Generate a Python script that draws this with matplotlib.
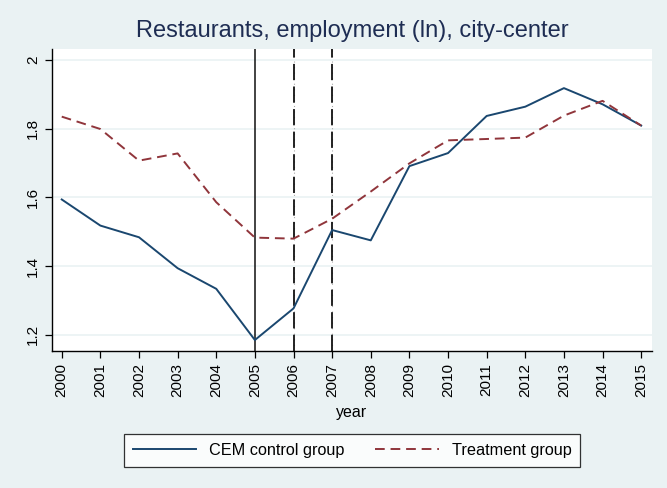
import matplotlib.pyplot as plt
from matplotlib.lines import Line2D

plt.rcParams['font.family'] = ['Liberation Sans', 'DejaVu Sans']

years = list(range(2000, 2016))
control = [1.594, 1.518, 1.484, 1.394, 1.334, 1.185, 1.277, 1.505,
           1.475, 1.691, 1.729, 1.837, 1.864, 1.918, 1.871, 1.809]
treatment = [1.835, 1.799, 1.707, 1.728, 1.586, 1.483, 1.480, 1.538,
             1.617, 1.699, 1.766, 1.770, 1.774, 1.838, 1.881, 1.809]
vlines_solid = [2005]
vlines_dash = [2006, 2007]
yticks = [1.2, 1.4, 1.6, 1.8, 2.0]
ytick_labels = ['1.2', '1.4', '1.6', '1.8', '2']

bg = '#EAF2F3'
fig = plt.figure(figsize=(6.67, 4.88), dpi=100, facecolor=bg)
ax = fig.add_axes([0.0775, 0.2807, 0.9, 0.619])
ax.set_facecolor('white')

for v in vlines_solid:
    ax.axvline(v, color='#222222', lw=1.2, zorder=2)
for v in vlines_dash:
    ax.axvline(v, color='#aaaaaa', lw=0.8, ls=(0, (1, 4)), zorder=2)
    ax.axvline(v, color='#111111', lw=1.3, ls=(0, (9, 3.5)), zorder=2)

ax.plot(years, control, color='#1A476F', lw=1.4, zorder=3)
ax.plot(years, treatment, color='#90353B', lw=1.4, ls=(0, (5, 3)), zorder=3)

ax.set_xlim(1999.74, 2015.28)
ax.set_ylim(1.153, 2.032)
ax.set_xticks(years)
ax.set_xticklabels([str(y) for y in years], rotation=90, fontsize=11)
ax.set_yticks(yticks)
ax.set_yticklabels(ytick_labels, rotation=90, va='center', fontsize=11)
ax.grid(axis='y', color=bg, lw=1.2)
ax.set_axisbelow(True)
for s in ['top', 'right']:
    ax.spines[s].set_visible(False)
for s in ['left', 'bottom']:
    ax.spines[s].set_color('black')
    ax.spines[s].set_linewidth(1.0)
ax.tick_params(length=5, color='black', width=0.9)

ax.set_xlabel('year', fontsize=11.5, labelpad=6)
fig.suptitle('Restaurants, employment (ln), city-center', fontsize=17,
             color='#1E2D53', x=0.528, y=0.96)

handles = [Line2D([], [], color='#1A476F', lw=1.4),
           Line2D([], [], color='#90353B', lw=1.4, ls=(0, (5, 3)))]
leg = fig.legend(handles, ['CEM control group', 'Treatment group'],
                 loc='center', bbox_to_anchor=(0.528, 0.0775), ncol=2,
                 fontsize=11.7, frameon=True, fancybox=False,
                 edgecolor='black', handlelength=3.9, columnspacing=1.9,
                 borderpad=0.55, handletextpad=0.8)
leg.get_frame().set_linewidth(0.9)

fig.savefig('out.png', dpi=100, facecolor=bg)
